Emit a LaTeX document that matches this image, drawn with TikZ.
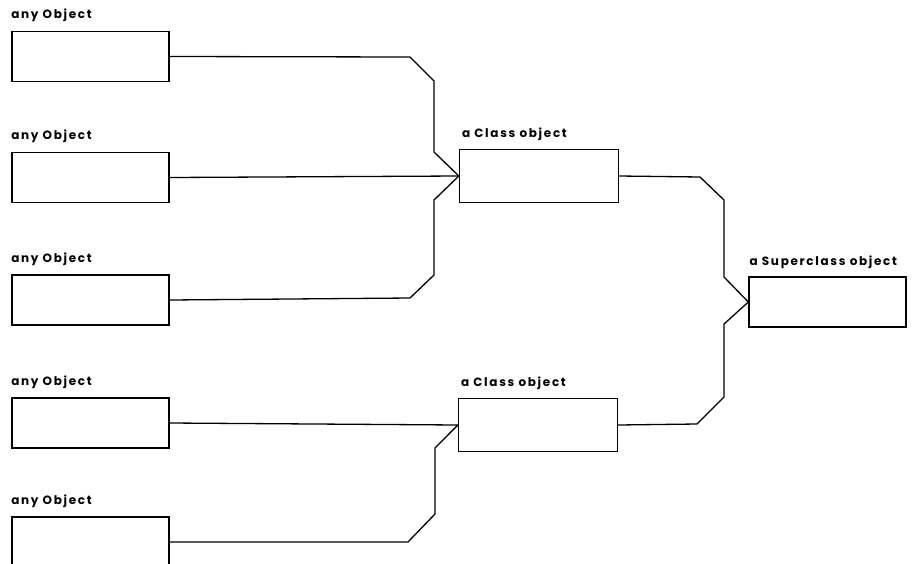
\documentclass[tikz,border=0pt]{standalone}
\usepackage{fontspec}
\setmainfont{Poppins}[LetterSpace=14]
\begin{document}
\begin{tikzpicture}[x=1pt,y=-1pt,
  obj/.style={draw, line width=1.8pt, minimum width=157pt, minimum height=50pt, inner sep=0pt},
  cls/.style={draw, line width=1.3pt, minimum width=159pt, minimum height=53pt, inner sep=0pt},
  lab/.style={anchor=base west, inner sep=0pt, font=\fontsize{12}{14}\selectfont\bfseries},
  wire/.style={line width=1.3pt, line join=miter}]
\useasboundingbox (0,0) rectangle (914,563);
\clip (0,0) rectangle (914,563);
% left objects
\node[obj] (o1) at (90.5,56.5) {};
\node[obj] (o2) at (90.5,177.5) {};
\node[obj] (o3) at (90.5,300) {};
\node[obj] (o4) at (90.5,423) {};
\node[obj] (o5) at (90.5,542) {};
% class objects
\node[cls] (c1) at (539,176) {};
\node[cls] (c2) at (538,425) {};
% superclass
\node[cls, minimum width=157pt, minimum height=50pt] (s) at (827.5,302) {};
% labels
\foreach \n in {o1,o2,o3,o4,o5}{
  \node[lab] (l\n) at ([yshift=12pt]\n.north west) {any Object};
}
\node[lab] (lc1) at ([xshift=3pt,yshift=11pt]c1.north west) {a Class object};
\node[lab] (lc2) at ([xshift=3pt,yshift=11pt]c2.north west) {a Class object};
\node[lab] (ls) at ([xshift=1pt,yshift=11pt]s.north west) {a Superclass object};
% wires to class 1
\draw[wire] (o1.east) -- (410,57) -- (434,81) -- (434,152) -- (c1.west);
\draw[wire] (o2.east) -- (c1.west);
\draw[wire] (o3.east) -- (410,298) -- (434,275) -- (434,200) -- (c1.west);
% wires to class 2
\draw[wire] (o4.east) -- (c2.west);
\draw[wire] (o5.east) -- (408,542) -- (435,514) -- (435,448) -- (c2.west);
% wires to superclass
\draw[wire] (c1.east) -- (700,177) -- (724,200) -- (724,277) -- (s.west);
\draw[wire] (c2.east) -- (697,424) -- (724,397) -- (724,324) -- (s.west);
\end{tikzpicture}
\end{document}
